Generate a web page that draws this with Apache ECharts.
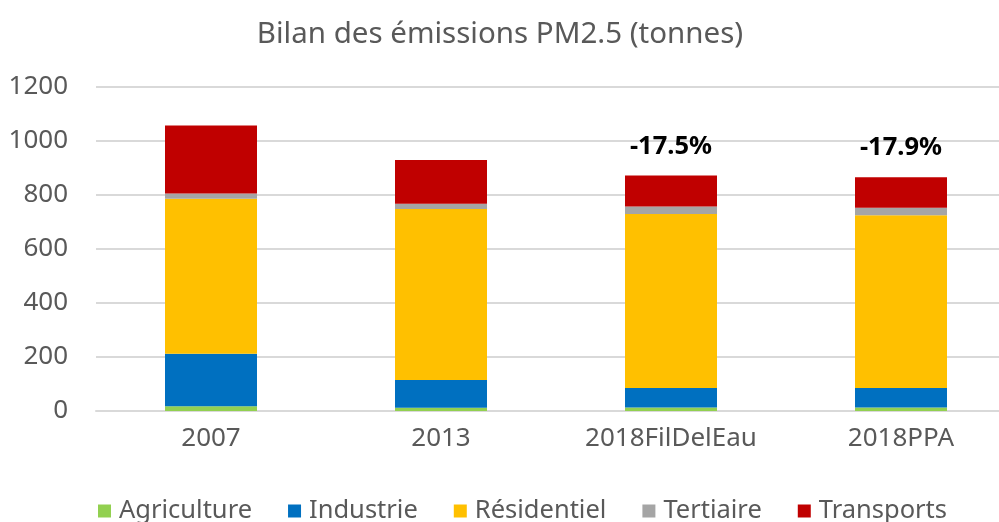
<!DOCTYPE html>
<html>
<head>
<meta charset="utf-8">
<script src="https://cdn.jsdelivr.net/npm/echarts@6/dist/echarts.min.js"></script>
<style>html,body{margin:0;padding:0;background:#fff}#c{width:999px;height:522px}</style>
</head>
<body>
<div id="c"></div>
<script>
const categories = ['2007', '2013', '2018FilDelEau', '2018PPA'];
const agriculture = [18, 12, 13, 13];
const industrie = [194, 103, 72, 72];
const residentiel = [574, 633, 645, 640];
const tertiaire = [20, 20, 27, 28];
const transports = [251, 162, 115, 113];
const annotations = ['', '', '-17.5%', '-17.9%'];
const yTicks = [0, 200, 400, 600, 800, 1000, 1200];

const FONT = '"Noto Sans", "Open Sans", sans-serif';
const TXT = '#595959';

function mk(name, data, color, extra) {
  return Object.assign({
    name: name, type: 'bar', stack: 'total', data: data, barWidth: '40%',
    itemStyle: { color: color }
  }, extra || {});
}

const chart = echarts.init(document.getElementById('c'), null, { renderer: 'canvas' });
chart.setOption({
  animation: false,
  textStyle: { fontFamily: FONT },
  title: {
    text: 'Bilan des émissions PM2.5 (tonnes)', left: 495, top: 15, textAlign: 'center',
    textStyle: { fontFamily: FONT, fontSize: 29.5, fontWeight: 'normal', color: TXT }
  },
  legend: {
    left: 93, top: 493, itemWidth: 13, itemHeight: 13, itemGap: 36, icon: 'rect',
    textStyle: { fontFamily: FONT, fontSize: 25.5, color: TXT, padding: [0, 0, 0, 3] },
    data: ['Agriculture', 'Industrie', 'Résidentiel', 'Tertiaire', 'Transports']
  },
  grid: { left: 96, top: 87, width: 920, height: 324, containLabel: false, outerBoundsMode: 'none' },
  xAxis: {
    type: 'category', data: categories,
    axisLine: { lineStyle: { color: '#d9d9d9', width: 2 } },
    axisTick: { show: false },
    axisLabel: { fontFamily: FONT, fontSize: 26, color: TXT, margin: 15 }
  },
  yAxis: {
    type: 'value', min: yTicks[0], max: yTicks[yTicks.length - 1], interval: yTicks[1] - yTicks[0],
    axisLine: { show: false }, axisTick: { show: false },
    splitLine: { lineStyle: { color: '#d9d9d9', width: 2 } },
    axisLabel: { fontFamily: FONT, fontSize: 26, color: TXT, margin: 28, formatter: v => String(v) }
  },
  series: [
    mk('Agriculture', agriculture, '#92D050'),
    mk('Industrie', industrie, '#0070C0'),
    mk('Résidentiel', residentiel, '#FFC000'),
    mk('Tertiaire', tertiaire, '#A5A5A5'),
    mk('Transports', transports, '#C00000', {
      label: {
        show: true, position: 'top', distance: 16,
        formatter: p => annotations[p.dataIndex],
        fontFamily: FONT, fontSize: 25.5, fontWeight: 'bold', color: '#000'
      }
    })
  ]
});
</script>
</body>
</html>
